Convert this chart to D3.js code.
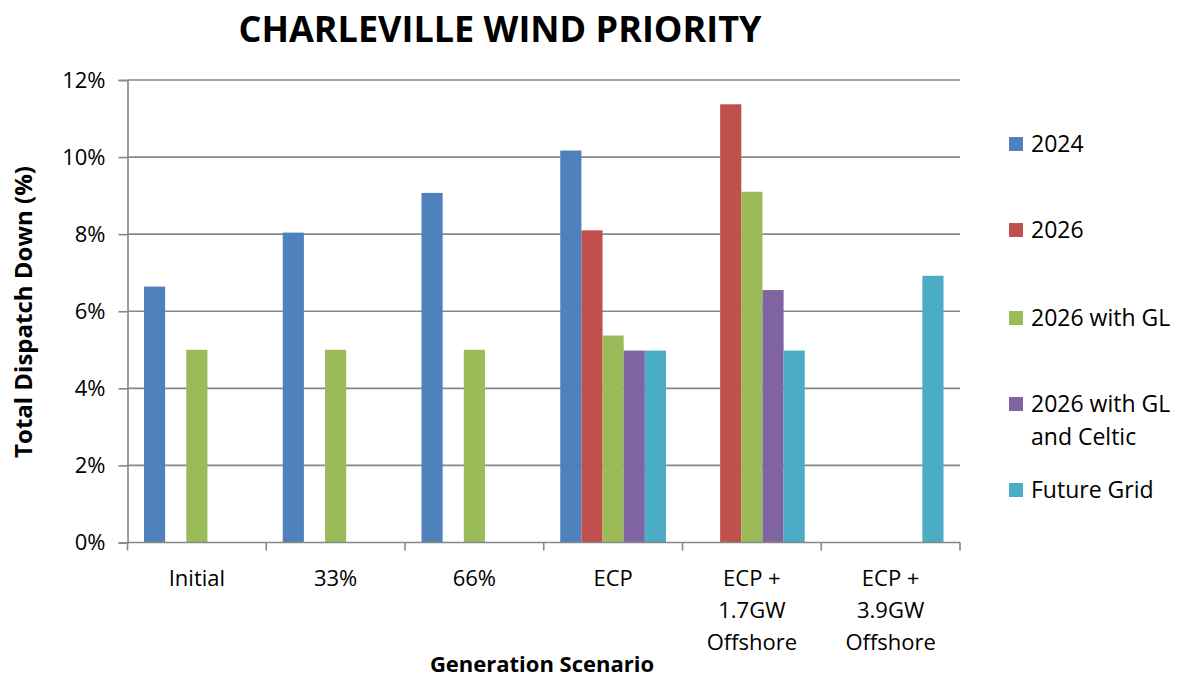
<!DOCTYPE html>
<html><head><meta charset="utf-8">
<script src="https://cdn.jsdelivr.net/npm/d3@7"></script>
<style>body{margin:0;background:#fff;} text{font-family:"Open Sans",sans-serif;fill:#000;}</style>
</head><body><svg id="c" width="1181" height="678"></svg>
<script>
const categories = [["Initial"],["33%"],["66%"],["ECP"],["ECP +","1.7GW","Offshore"],["ECP +","3.9GW","Offshore"]];
const seriesNames = ["2024","2026","2026 with GL","2026 with GL and Celtic","Future Grid"];
const legendLines = [["2024"],["2026"],["2026 with GL"],["2026 with GL","and Celtic"],["Future Grid"]];
const colors = ["#4F81BD","#C0504D","#9BBB59","#8064A2","#4BACC6"];
const s2024 = [6.64, 8.04, 9.07, 10.17, null, null];
const s2026 = [null, null, null, 8.10, 11.37, null];
const s2026GL = [5.0, 5.0, 5.0, 5.37, 9.10, null];
const s2026GLCeltic = [null, null, null, 4.98, 6.55, null];
const sFutureGrid = [null, null, null, 4.98, 4.98, 6.92];
const yTicks = [0,2,4,6,8,10,12];
const values = [s2024, s2026, s2026GL, s2026GLCeltic, sFutureGrid];

const svg = d3.select("#c");
const L=127.5, R=960, T=80, B=542.5;
const x = d3.scaleBand().domain(d3.range(categories.length)).range([L,R]).paddingInner(0).paddingOuter(0);
const xi = d3.scaleBand().domain(d3.range(seriesNames.length)).range([0,x.bandwidth()]).paddingOuter(0.78).paddingInner(0);
const y = d3.scaleLinear().domain([0,12]).range([B,T]);
const grid="#878787";

// gridlines
svg.append("g").selectAll("line").data(yTicks.filter(d=>d>0)).join("line")
  .attr("x1",L).attr("x2",R).attr("y1",d=>y(d)).attr("y2",d=>y(d))
  .attr("stroke",grid).attr("stroke-width",1.6);

// bars
values.forEach((arr,si)=>{
  svg.append("g").selectAll("rect").data(arr.map((v,i)=>({v,i})).filter(d=>d.v!=null)).join("rect")
    .attr("x",d=>x(d.i)+xi(si)).attr("width",xi.bandwidth())
    .attr("y",d=>y(d.v)).attr("height",d=>B-y(d.v)).attr("fill",colors[si]);
});

// y axis
const ya = svg.append("g").attr("transform",`translate(${L},0)`)
  .call(d3.axisLeft(y).tickValues(yTicks).tickFormat(d=>d+"%").tickSize(9).tickPadding(13));
ya.select(".domain").attr("stroke",grid).attr("stroke-width",1.6);
ya.selectAll(".tick line").attr("stroke",grid).attr("stroke-width",1.6);
ya.selectAll(".tick text").attr("font-size",22).attr("font-family","Open Sans").attr("fill","#000");

// x axis
const xa = svg.append("g").attr("transform",`translate(0,${B})`);
xa.append("line").attr("x1",L).attr("x2",R).attr("stroke",grid).attr("stroke-width",1.6);
xa.selectAll("line.t").data(d3.range(categories.length+1)).join("line").attr("class","t")
  .attr("x1",d=>d<categories.length?x(d):R).attr("x2",d=>d<categories.length?x(d):R)
  .attr("y1",0).attr("y2",8).attr("stroke",grid).attr("stroke-width",1.6);
categories.forEach((lines,i)=>{
  const t = xa.append("text").attr("text-anchor","middle").attr("font-size",22)
    .attr("x",x(i)+x.bandwidth()/2).attr("y",43);
  lines.forEach((ln,j)=>t.append("tspan").attr("x",x(i)+x.bandwidth()/2).attr("dy",j?32:0).text(ln));
});

// titles
svg.append("text").attr("x",500).attr("y",42).attr("text-anchor","middle")
  .attr("font-size",36).attr("font-weight","bold").text("CHARLEVILLE WIND PRIORITY");
svg.append("text").attr("transform","translate(32,312) rotate(-90)").attr("text-anchor","middle")
  .attr("font-size",24).attr("font-weight","bold").text("Total Dispatch Down (%)");
svg.append("text").attr("x",542).attr("y",672).attr("text-anchor","middle")
  .attr("font-size",22).attr("font-weight","bold").text("Generation Scenario");

// legend
const ly = [144,230,318,404,490];
legendLines.forEach((lines,i)=>{
  const g = svg.append("g").attr("transform",`translate(1009,${ly[i]})`);
  g.append("rect").attr("x",0).attr("y",-7).attr("width",14).attr("height",14).attr("fill",colors[i]);
  const t = g.append("text").attr("x",22).attr("y",8).attr("font-size",23);
  lines.forEach((ln,j)=>t.append("tspan").attr("x",22).attr("dy",j?33:0).text(ln));
});
</script></body></html>
